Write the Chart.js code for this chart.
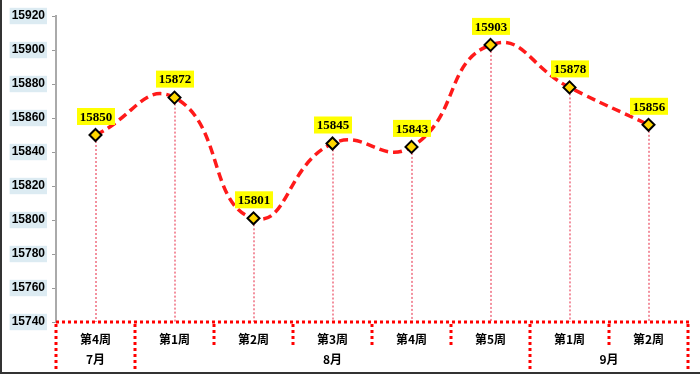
<!DOCTYPE html>
<html>
<head>
<meta charset="utf-8">
<script src="https://cdn.jsdelivr.net/npm/chart.js@4/dist/chart.umd.min.js"></script>
<style>
  html, body { margin: 0; padding: 0; background: #fff; }
  #wrap { width: 700px; height: 374px; position: relative; }
</style>
</head>
<body>
<div id="wrap"><canvas id="c" width="700" height="374"></canvas></div>
<script>
const weeks = ['第4周', '第1周', '第2周', '第3周', '第4周', '第5周', '第1周', '第2周'];
const months = ['7月', '8月', '9月'];
const monthSpans = [1, 5, 2];
const values = [15850, 15872, 15801, 15845, 15843, 15903, 15878, 15856];
const yMin = 15740, yMax = 15920, yStep = 20;

const decor = {
  id: 'decor',
  beforeDatasetsDraw(chart) {
    const ctx = chart.ctx;
    const y = chart.scales.y;
    const base = y.getPixelForValue(yMin);
    const meta = chart.getDatasetMeta(0);
    ctx.save();
    ctx.strokeStyle = '#f3919f';
    ctx.lineWidth = 2;
    ctx.setLineDash([2, 2]);
    meta.data.forEach(p => {
      ctx.beginPath();
      ctx.moveTo(Math.round(p.x), p.y + 6);
      ctx.lineTo(Math.round(p.x), base);
      ctx.stroke();
    });
    ctx.restore();
  },
  afterDraw(chart) {
    const ctx = chart.ctx;
    const x = chart.scales.x, y = chart.scales.y;
    const base = Math.round(y.getPixelForValue(yMin));
    const half = (x.getPixelForValue(1) - x.getPixelForValue(0)) / 2;
    const meta = chart.getDatasetMeta(0);
    // data labels
    ctx.save();
    ctx.font = 'bold 13px "Liberation Serif"';
    ctx.textAlign = 'center';
    ctx.textBaseline = 'middle';
    meta.data.forEach((p, i) => {
      const bw = 38, bh = 17;
      const bx = p.x - bw / 2 + 0.5, by = p.y - 10 - bh;
      ctx.fillStyle = '#ffff00';
      ctx.fillRect(bx, by, bw, bh);
      ctx.fillStyle = '#000';
      ctx.fillText(String(values[i]), p.x + 0.5, by + bh / 2 + 1);
    });
    ctx.restore();
    // separators + axis line
    ctx.save();
    ctx.strokeStyle = '#ff0000';
    ctx.lineWidth = 3;
    ctx.lineCap = 'butt';
    ctx.setLineDash([3, 3]);
    ctx.beginPath();
    ctx.moveTo(x.left, base);
    ctx.lineTo(x.right + 1, base);
    ctx.stroke();
    const fullIdx = new Set();
    let acc = 0;
    fullIdx.add(0);
    monthSpans.forEach(s => { acc += s; fullIdx.add(acc); });
    for (let i = 0; i <= weeks.length; i++) {
      const px = Math.round(x.getPixelForValue(0) - half + i * 2 * half);
      const bottom = fullIdx.has(i) ? chart.height - 4 : base + 24;
      ctx.beginPath();
      ctx.moveTo(px, base + 2);
      ctx.lineTo(px, bottom);
      ctx.stroke();
    }
    ctx.restore();
    // month labels
    ctx.save();
    ctx.font = 'bold 12px "Noto Sans CJK SC"';
    ctx.fillStyle = '#000';
    ctx.textAlign = 'center';
    ctx.textBaseline = 'middle';
    let start = 0;
    months.forEach((m, k) => {
      const end = start + monthSpans[k] - 1;
      const cx = (x.getPixelForValue(start) + x.getPixelForValue(end)) / 2;
      ctx.fillText(m, cx, base + 37);
      start += monthSpans[k];
    });
    ctx.restore();
    // outer frame (left + bottom)
    ctx.save();
    ctx.strokeStyle = '#333';
    ctx.lineWidth = 2;
    ctx.beginPath();
    ctx.moveTo(1, 0);
    ctx.lineTo(1, chart.height - 1);
    ctx.lineTo(chart.width, chart.height - 1);
    ctx.stroke();
    ctx.restore();
  }
};

new Chart(document.getElementById('c'), {
  type: 'line',
  data: {
    labels: weeks,
    datasets: [{
      data: values,
      borderColor: '#ff1a1a',
      borderWidth: 3.5,
      borderDash: [9, 5],
      tension: 0.5,
      fill: false,
      pointStyle: 'rectRot',
      pointRadius: 6,
      pointHoverRadius: 6,
      pointBackgroundColor: '#ffd700',
      pointBorderColor: '#000',
      pointBorderWidth: 2
    }]
  },
  options: {
    responsive: false,
    animation: false,
    events: [],
    layout: { padding: { top: 16, right: 12, left: 0, bottom: 0 } },
    plugins: { legend: { display: false }, tooltip: { enabled: false } },
    scales: {
      x: {
        offset: true,
        grid: { display: false },
        border: { display: false },
        ticks: { font: { size: 12, weight: 'bold', family: '"Noto Sans CJK SC"' }, color: '#000', padding: 2, maxRotation: 0, autoSkip: false },
        afterFit(s) { s.height = 52; }
      },
      y: {
        min: yMin, max: yMax,
        grid: { display: true, drawOnChartArea: false, drawTicks: true, tickLength: 4, color: '#999', lineWidth: 1 },
        border: { display: true, color: '#aaa', width: 2, dash: [2, 2] },
        ticks: {
          stepSize: yStep,
          font: { size: 12, weight: 'bold', family: '"Liberation Sans"' },
          color: '#000',
          padding: 7,
          showLabelBackdrop: true,
          backdropColor: '#dcebf2',
          backdropPadding: { left: 2, right: 2, top: 1, bottom: 1 },
          callback: v => String(v)
        },
        afterFit(s) { s.width = 56; }
      }
    }
  },
  plugins: [decor]
});
</script>
</body>
</html>
